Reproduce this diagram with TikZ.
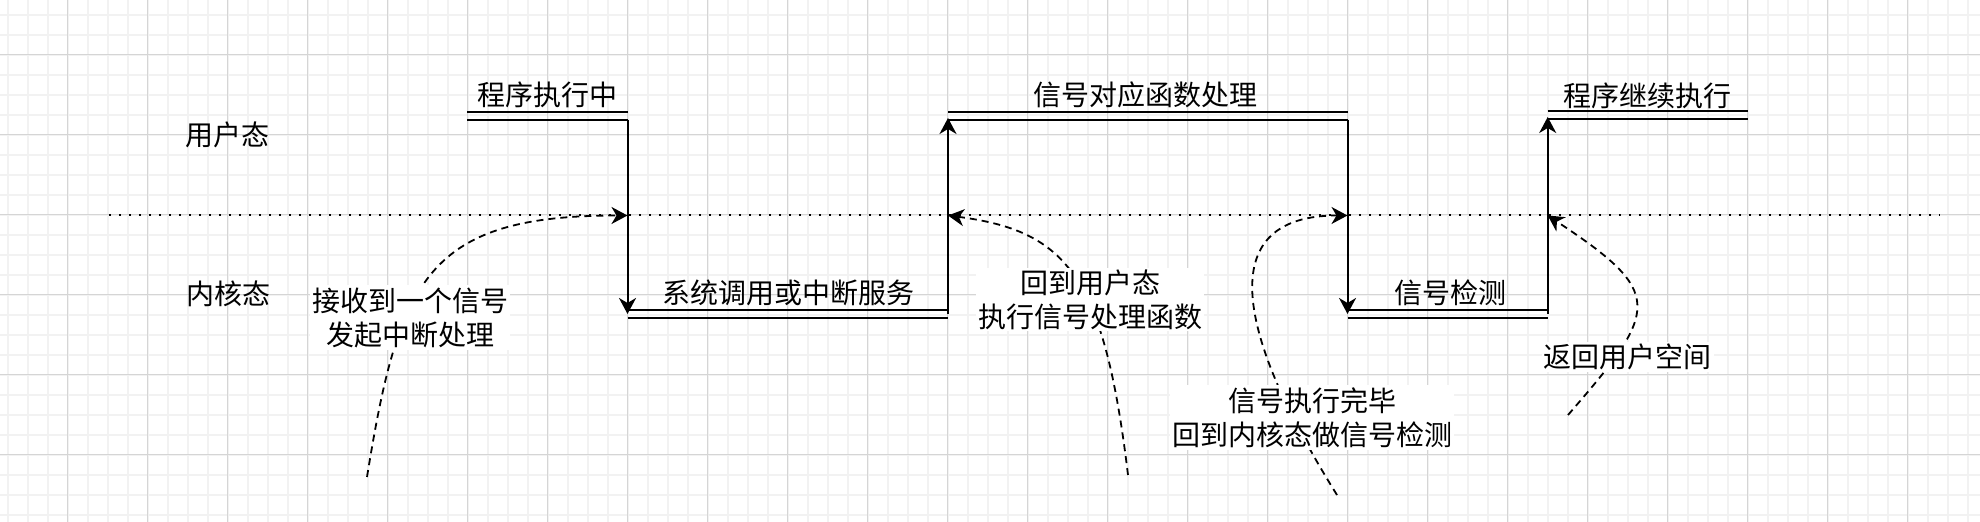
\documentclass[tikz,border=0pt]{standalone}
\usepackage{fontspec}
\setmainfont{Noto Sans CJK SC}
\usetikzlibrary{arrows.meta}
\definecolor{gridminor}{HTML}{F2F2F2}
\definecolor{gridmajor}{HTML}{D5D5D5}
\begin{document}
\begin{tikzpicture}[x=0.5pt,y=-0.5pt,
  minorgrid/.style={draw=gridminor, line width=0.8pt},
  majorgrid/.style={draw=gridmajor, line width=0.5pt},
  mainline/.style={line width=1pt, draw=black},
  arrowed/.style={-{Stealth[length=8pt,width=8.5pt,inset=2.5pt]}},
  curvy/.style={line width=0.9pt, dash pattern=on 3.5pt off 2.5pt, -{Stealth[length=8pt,width=8.5pt,inset=2.5pt]}},
  dotline/.style={line width=1pt, dash pattern=on 1pt off 4pt},
  lbl/.style={font=\fontsize{14pt}{17pt}\selectfont, inner sep=0pt},
  bglbl/.style={lbl, fill=white, inner sep=1pt, align=center}]
\useasboundingbox[fill=white] (0,0) rectangle (1980,522);
% grid
\foreach \i in {0,...,98} \draw[minorgrid] ({7.7+20*\i},0) -- ({7.7+20*\i},522);
\foreach \j in {0,...,25} \draw[minorgrid] (0,{15+20*\j}) -- (1980,{15+20*\j});
\foreach \i in {0,...,23} \draw[majorgrid] ({67.7+80*\i},0) -- ({67.7+80*\i},522);
\foreach \j in {0,...,5} \draw[majorgrid] (0,{55+80*\j}) -- (1980,{55+80*\j});

% coordinates
\coordinate (dl) at (109,215.5);
\coordinate (dr) at (1940,215.5);
\coordinate (u1s) at (467,116);    \coordinate (u1e) at (627.5,116);
\coordinate (k1s) at (627.5,314);  \coordinate (k1e) at (948,314);
\coordinate (u2s) at (948,116);    \coordinate (u2e) at (1347.5,116);
\coordinate (k2s) at (1347.5,314); \coordinate (k2e) at (1547.7,314);
\coordinate (u3s) at (1547.7,115); \coordinate (u3e) at (1747.7,115);
\coordinate (x1) at (627.5,215.5);
\coordinate (x2) at (948,215.5);
\coordinate (x3) at (1347.5,215.5);
\coordinate (x4) at (1547.7,215.5);
\coordinate (c1) at (367,477);
\coordinate (c2) at (1128,475);
\coordinate (c3) at (1337,495);
\coordinate (c4) at (1568,415);

% dotted boundary
\draw[dotline] (dl) -- (dr);

% double links
\foreach \a/\b in {u1s/u1e,k1s/k1e,u2s/u2e,k2s/k2e,u3s/u3e}{
  \draw[mainline, transform canvas={yshift=2pt}] (\a) -- (\b);
  \draw[mainline, transform canvas={yshift=-2pt}] (\a) -- (\b);
}

% vertical transitions
\draw[mainline, arrowed] ([yshift=-2pt]u1e) -- (k1s);
\draw[mainline, arrowed] (k1e) -- ([yshift=-1pt]u2s);
\draw[mainline, arrowed] ([yshift=-2pt]u2e) -- (k2s);
\draw[mainline, arrowed] (k2e) -- ([yshift=-1pt]u3s);

% dashed curves
\draw[curvy] (c1) .. controls (399,279) and (427,215.5) .. (x1);
\draw[curvy] (c2) .. controls (1104,276) and (1067,231) .. (x2);
\draw[curvy] (c3) .. controls (1231,325) and (1217,215.5) .. (x3);
\draw[curvy] (c4) .. controls (1660,309) and (1665,293) .. (x4);

% labels
\node[lbl] (t1) at (547,95) {程序执行中};
\node[lbl] (t2) at (788.5,293) {系统调用或中断服务};
\node[lbl] (t3) at (1145,95) {信号对应函数处理};
\node[lbl] (t4) at (1450,292.5) {信号检测};
\node[lbl] (t5) at (1647.5,96) {程序继续执行};
\node[lbl] (s1) at (227.5,135) {用户态};
\node[lbl] (s2) at (228,293.5) {内核态};
\node[bglbl] (n1) at (410,317.5) {接收到一个信号\\发起中断处理};
\node[bglbl] (n2) at (1090,299.5) {回到用户态\\执行信号处理函数};
\node[bglbl] (n3) at (1312,417.5) {信号执行完毕\\回到内核态做信号检测};
\node[bglbl] (n4) at (1627.5,357) {返回用户空间};
\end{tikzpicture}
\end{document}
